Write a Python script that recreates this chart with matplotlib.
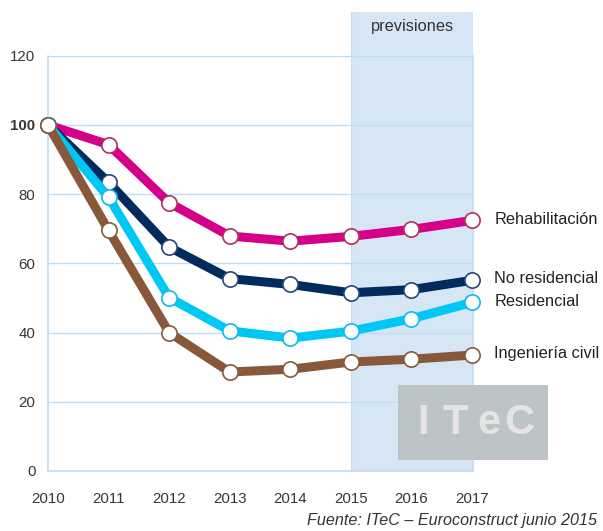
import matplotlib
matplotlib.use("Agg")
import matplotlib.pyplot as plt
from matplotlib.patches import Rectangle

plt.rcParams['font.family'] = ['Liberation Sans', 'DejaVu Sans']

years = [2010, 2011, 2012, 2013, 2014, 2015, 2016, 2017]
series_names = ["Rehabilitación", "No residencial", "Residencial", "Ingeniería civil"]
rehabilitacion = [100, 94.3, 77.5, 67.9, 66.4, 67.8, 69.8, 72.4]
no_residencial = [100, 83.4, 64.7, 55.6, 53.9, 51.5, 52.4, 55.1]
residencial = [100, 79.1, 50.1, 40.5, 38.4, 40.4, 44.0, 48.7]
ingenieria_civil = [100, 69.5, 40.0, 28.6, 29.4, 31.5, 32.3, 33.5]
y_ticks = [0, 20, 40, 60, 80, 100, 120]
forecast_start = 2015

line_colors = ["#D4008A", "#002B5C", "#00C8F5", "#87593A"]
edge_colors = ["#B0305A", "#23497A", "#10B8F0", "#87593A"]
draw_order = [0, 1, 2, 3]
all_series = [rehabilitacion, no_residencial, residencial, ingenieria_civil]

W, H = 603, 531
fig = plt.figure(figsize=(W / 100, H / 100), dpi=100)
ax = fig.add_axes([48 / W, 1 - 471 / H, (473.5 - 48) / W, (471 - 55.7) / H])

ax.set_xlim(2010, 2017.025)
ax.set_ylim(0, 120)

grid_c = "#BFDDF7"
# forecast band, extends above axes
band = Rectangle((forecast_start, 0), 2017.025 - forecast_start, 132.7,
                 facecolor="#D6E6F5", edgecolor="none", clip_on=False, zorder=0)
ax.add_patch(band)
ax.plot([forecast_start, forecast_start], [0, 132.7], color="#C5DCF2", lw=0.8,
        clip_on=False, zorder=0.5)
ax.text((forecast_start + 2017.025) / 2, 128.4, "previsiones", ha="center", va="center",
        fontsize=11.8, color="#333333")

for yv in y_ticks[1:]:
    ax.axhline(yv, color=grid_c, lw=1.0, zorder=1)

for sp in ax.spines.values():
    sp.set_color(grid_c)
    sp.set_linewidth(1.2)
ax.spines['top'].set_visible(False)
ax.patch.set_alpha(0)

for k, i in enumerate(draw_order):
    vals = all_series[i]
    ax.plot(years, vals, color=line_colors[i], lw=6.5, solid_joinstyle="round",
            solid_capstyle="round", zorder=3 + k,
            marker="o", markersize=11, markerfacecolor="white",
            markeredgecolor=edge_colors[i], markeredgewidth=1.2, clip_on=False)
    ax.annotate(series_names[i], (years[-1], vals[-1]), xytext=(16, 1),
                textcoords="offset points", ha="left", va="center",
                fontsize=11.8, color="#222222", annotation_clip=False)

ax.set_xticks(years)
ax.set_xticklabels([str(y) for y in years])
ax.set_yticks(y_ticks)
ax.set_yticklabels([str(v) for v in y_ticks])
for lbl in ax.get_yticklabels():
    if lbl.get_text() == "100":
        lbl.set_fontweight("bold")
ax.tick_params(axis="both", length=0, labelsize=10.8, labelcolor="#3A3530")
ax.tick_params(axis="y", pad=9)
ax.tick_params(axis="x", pad=15)

# logo
fig.patches.append(Rectangle((397.7 / W, 1 - 460 / H), (548 - 397.7) / W, (460 - 385) / H,
                             transform=fig.transFigure, facecolor="#BCC4C6",
                             edgecolor="none", zorder=10))
letters = ["I", "T", "e", "C"]
xs = [423, 455, 489, 519]
for ch, xp in zip(letters, xs):
    fig.text(xp / W, 1 - 423 / H, ch, ha="center", va="center", fontsize=30,
             fontweight="bold", color="#E4E4E4", zorder=11)

fig.text(597 / W, 1 - 521 / H, "Fuente: ITeC – Euroconstruct junio 2015",
         ha="right", va="center", fontsize=11.6, style="italic", color="#333333")

fig.savefig("out.png", dpi=100)
